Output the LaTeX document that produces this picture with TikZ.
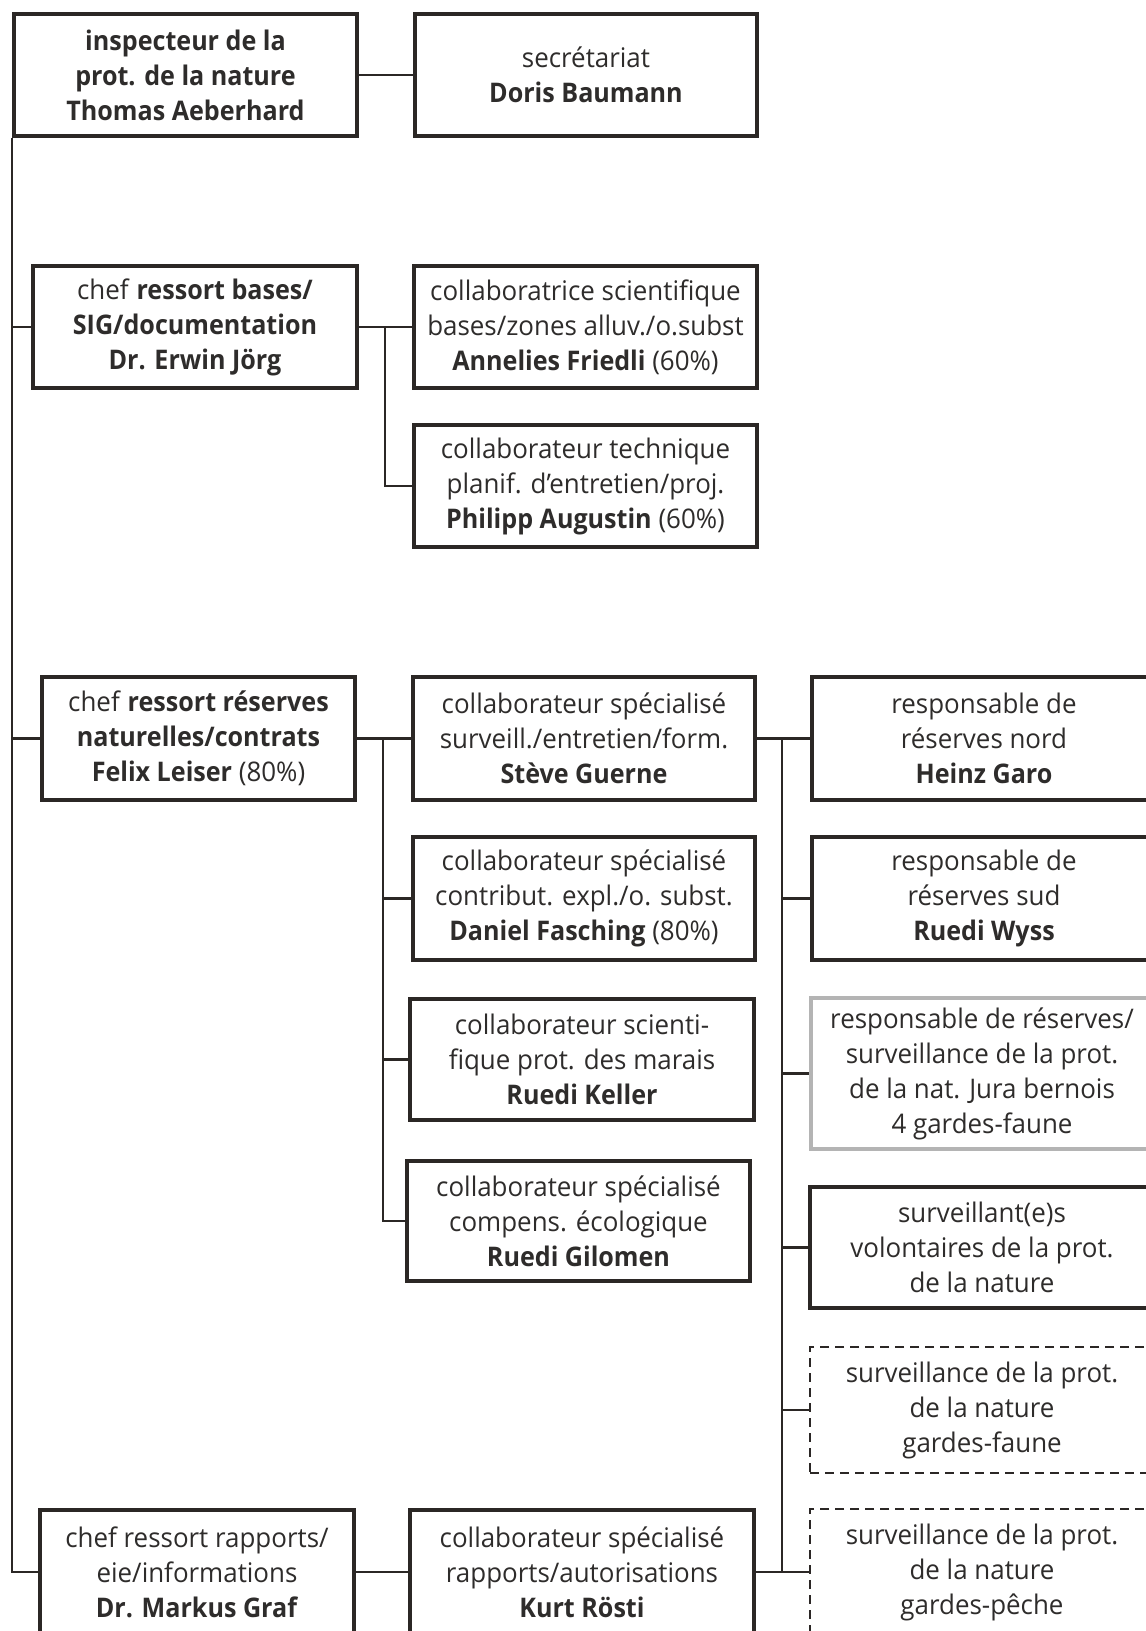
\documentclass[tikz,border=0pt]{standalone}
\usepackage{fontspec}
\setmainfont{Open Sans}[FakeStretch=0.96, BoldFeatures={FakeStretch=0.93}]
\definecolor{linec}{HTML}{2B2725}
\definecolor{textc}{HTML}{2E2C2B}
\definecolor{grayc}{HTML}{B4B4B4}
\begin{document}
\begin{tikzpicture}[x=1pt,y=-1pt,
  box/.style={draw=linec, line width=4pt, align=center, inner sep=0pt, text=textc,
    font=\fontsize{27}{35}\selectfont},
  graybox/.style={box, draw=grayc},
  dashbox/.style={box, line width=1.5pt, dash pattern=on 9pt off 6pt},
  conn/.style={draw=linec, line width=2.5pt}]
\useasboundingbox (0,0) rectangle (1146,1631);
\clip (0,0) rectangle (1146,1631);
\fill[white] (0,0) rectangle (1146,1631);

% column 1
\node[box, minimum width=343pt, minimum height=122pt] (insp) at (185.5,75)
  {\textbf{inspecteur de la}\\\textbf{prot. de la nature}\\\textbf{Thomas Aeberhard}};
\node[box, minimum width=342pt, minimum height=122pt] (sec) at (586,75)
  {secrétariat\\\textbf{Doris Baumann}};
\node[box, minimum width=324pt, minimum height=122pt] (basechef) at (195,327)
  {chef \textbf{ressort bases/}\\\textbf{SIG/documentation}\\\textbf{Dr. Erwin Jörg}};
\node[box, minimum width=343pt, minimum height=122pt] (collsci) at (585.5,327)
  {collaboratrice scientifique\\bases/zones alluv./o.subst\\\textbf{Annelies Friedli} (60\%)};
\node[box, minimum width=343pt, minimum height=122pt] (colltech) at (585.5,486)
  {collaborateur technique\\planif. d’entretien/proj.\\\textbf{Philipp Augustin} (60\%)};
\node[box, minimum width=313pt, minimum height=123pt] (reschef) at (198.5,738.5)
  {chef \textbf{ressort réserves}\\\textbf{naturelles/contrats}\\\textbf{Felix Leiser} (80\%)};
\node[box, minimum width=342pt, minimum height=123pt] (steve) at (584,738.5)
  {collaborateur spécialisé\\surveill./entretien/form.\\\textbf{Stève Guerne}};
\node[box, minimum width=342pt, minimum height=123pt] (fasching) at (584,898.5)
  {collaborateur spécialisé\\contribut. expl./o. subst.\\\textbf{Daniel Fasching} (80\%)};
\node[box, minimum width=344pt, minimum height=121pt] (keller) at (582,1059.5)
  {collaborateur scienti-\\fique prot. des marais\\\textbf{Ruedi Keller}};
\node[box, minimum width=343pt, minimum height=120pt] (gilomen) at (578.5,1221)
  {collaborateur spécialisé\\compens. écologique\\\textbf{Ruedi Gilomen}};
\node[box, minimum width=344pt, minimum height=123pt] (heinz) at (984,738.5)
  {responsable de\\réserves nord\\\textbf{Heinz Garo}};
\node[box, minimum width=344pt, minimum height=123pt] (wyss) at (984,898.5)
  {responsable de\\réserves sud\\\textbf{Ruedi Wyss}};
\node[graybox, minimum width=342pt, minimum height=151pt] (jura) at (982,1073.5)
  {responsable de réserves/\\surveillance de la prot.\\de la nat. Jura bernois\\4 gardes-faune};
\node[box, minimum width=344pt, minimum height=121pt] (volont) at (982,1247.5)
  {surveillant(e)s\\volontaires de la prot.\\de la nature};
\node[dashbox, minimum width=344pt, minimum height=126pt] (faune) at (982,1410)
  {surveillance de la prot.\\de la nature\\gardes-faune};
\node[dashbox, minimum width=344pt, minimum height=126pt] (peche) at (982,1572)
  {surveillance de la prot.\\de la nature\\gardes-pêche};
\node[box, minimum width=314pt, minimum height=124pt] (rapchef) at (197,1572)
  {chef ressort rapports/\\eie/informations\\\textbf{Dr. Markus Graf}};
\node[box, minimum width=344pt, minimum height=124pt] (rosti) at (582,1572)
  {collaborateur spécialisé\\rapports/autorisations\\\textbf{Kurt Rösti}};

\coordinate (va) at (385,0);
\coordinate (vb) at (383,0);
\coordinate (vc) at (782,0);

% trunk
\draw[conn] (insp.south west) |- (rapchef.west);
\draw[conn] (insp.west |- basechef.west) -- (basechef.west);
\draw[conn] (insp.west |- reschef.west) -- (reschef.west);
\draw[conn] (insp.east) -- (sec.west);

% bases group
\draw[conn] (basechef.east) -- (collsci.west);
\draw[conn] (va |- collsci.west) |- (colltech.west);

% reserves group
\draw[conn] (reschef.east) -- (steve.west);
\draw[conn] (vb |- steve.west) |- (gilomen.west);
\draw[conn] (vb |- fasching.west) -- (fasching.west);
\draw[conn] (vb |- keller.west) -- (keller.west);

% right column
\draw[conn] (steve.east) -- (heinz.west);
\draw[conn] (vc |- heinz.west) -- (vc |- peche.west);
\draw[conn] (vc |- wyss.west) -- (wyss.west);
\draw[conn] (vc |- jura.west) -- (jura.west);
\draw[conn] (vc |- volont.west) -- (volont.west);
\draw[conn] (vc |- faune.west) -- (faune.west);
\draw[conn] (rapchef.east) -- (rosti.west);
\draw[conn] (rosti.east) -- (peche.west);
\end{tikzpicture}
\end{document}
